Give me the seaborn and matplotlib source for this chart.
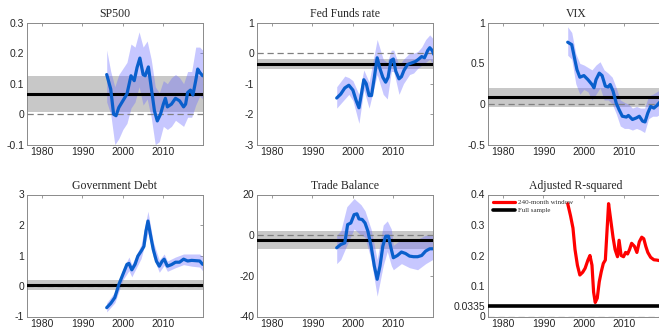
import numpy as np
import matplotlib
matplotlib.use("Agg")
import matplotlib.pyplot as plt
import seaborn as sns

# ---------------- data ----------------
titles = ["SP500", "Fed Funds rate", "VIX", "Government Debt", "Trade Balance", "Adjusted R-squared"]
xticks = [1980, 1990, 2000, 2010]

# SP500
sp_x = [1996.0, 1997.0, 1997.7, 1998.3, 1999.0, 2000.0, 2001.0, 2002.0, 2002.8, 2003.5, 2004.2, 2005.0,
        2005.5, 2006.3, 2007.0, 2007.8, 2008.5, 2009.3, 2010.0, 2010.5, 2011.0, 2012.0, 2013.0, 2014.0,
        2015.0, 2015.5, 2016.0, 2016.7, 2017.3, 2018.0, 2018.5, 2019.0, 2019.7]
sp_y = [0.13, 0.082, 0.0, -0.005, 0.022, 0.044, 0.066, 0.126, 0.11, 0.153, 0.184, 0.13,
        0.126, 0.155, 0.088, 0.011, -0.022, 0.0, 0.033, 0.052, 0.024, 0.033, 0.052, 0.044,
        0.024, 0.033, 0.071, 0.079, 0.063, 0.11, 0.148, 0.137, 0.126]
sp_bx = [1996, 1997, 1998, 1999, 2000, 2001, 2002, 2003, 2004, 2005, 2006, 2007, 2008, 2009, 2010,
         2011, 2012, 2013, 2014, 2015, 2016, 2017, 2018, 2019, 2019.7]
sp_hi = [0.21, 0.14, 0.09, 0.13, 0.15, 0.17, 0.23, 0.22, 0.27, 0.22, 0.24, 0.18, 0.09, 0.07, 0.11,
         0.10, 0.12, 0.13, 0.12, 0.10, 0.14, 0.14, 0.22, 0.22, 0.21]
sp_lo = [0.04, 0.0, -0.10, -0.08, -0.05, -0.03, 0.02, 0.04, 0.09, 0.03, 0.05, -0.01, -0.10, -0.09, -0.04,
         -0.05, -0.04, -0.02, -0.03, -0.04, -0.01, -0.01, 0.03, 0.06, 0.05]

# Fed Funds rate
ff_x = [1996.0, 1997.0, 1998.0, 1999.0, 2000.0, 2000.8, 2001.5, 2002.2, 2002.7, 2003.3, 2004.0, 2004.6,
        2005.3, 2006.0, 2006.7, 2007.4, 2008.1, 2008.7, 2009.4, 2010.0, 2010.6, 2011.4, 2012.0, 2012.6,
        2013.5, 2014.5, 2015.5, 2016.3, 2017.0, 2017.7, 2018.5, 2019.0, 2019.6, 2020.0]
ff_y = [-1.47, -1.34, -1.14, -1.05, -1.21, -1.55, -1.79, -1.27, -0.87, -1.0, -1.39, -1.39,
        -0.79, -0.15, -0.51, -0.79, -0.95, -0.79, -0.24, -0.19, -0.59, -0.84, -0.77, -0.57,
        -0.37, -0.32, -0.27, -0.19, -0.11, -0.15, 0.09, 0.18, 0.09, -0.04]
ff_bx = [1996, 1998, 1999, 2000, 2001.5, 2002.7, 2004, 2006, 2007.5, 2008.5, 2009.5, 2010.1, 2011.4,
         2012.5, 2014, 2015, 2016, 2017, 2018, 2019, 2020]
ff_hi = [-1.1, -0.75, -0.8, -0.9, -1.35, -0.55, -0.95, 0.45, -0.2, -0.3, 0.1, 0.1, -0.4,
         -0.2, 0.0, 0.0, 0.05, 0.2, 0.45, 0.6, 0.45]
ff_lo = [-1.8, -1.5, -1.35, -1.55, -2.3, -1.2, -1.8, -0.7, -1.35, -1.5, -0.6, -0.6, -1.35,
         -1.0, -0.7, -0.65, -0.5, -0.4, -0.3, -0.2, -0.4]

# VIX
vx_x = [1996.0, 1997.0, 1997.7, 1998.3, 1999.0, 2000.0, 2001.0, 2002.0, 2002.5, 2003.0, 2003.8, 2004.5,
        2005.3, 2006.0, 2006.5, 2007.2, 2008.0, 2008.7, 2009.5, 2010.5, 2011.0, 2012.0, 2013.0, 2013.7,
        2014.5, 2015.1, 2015.8, 2016.5, 2017.3, 2018.0, 2018.7, 2019.7]
vx_y = [0.76, 0.73, 0.56, 0.42, 0.33, 0.35, 0.30, 0.24, 0.20, 0.30, 0.38, 0.35,
        0.22, 0.21, 0.24, 0.16, 0.01, -0.07, -0.15, -0.16, -0.14, -0.19, -0.17, -0.15,
        -0.21, -0.22, -0.11, -0.03, -0.05, -0.02, 0.02, -0.01]
vx_bx = [1996, 1997, 1998, 1999, 2000, 2001, 2002, 2003, 2004, 2005, 2006, 2007, 2008, 2009, 2010,
         2011, 2012, 2013, 2014, 2015, 2016, 2017, 2018, 2019, 2020]
vx_hi = [0.95, 0.88, 0.62, 0.50, 0.48, 0.45, 0.42, 0.48, 0.52, 0.42, 0.38, 0.33, 0.20, 0.05, 0.02,
         0.0, -0.05, -0.03, -0.05, -0.05, 0.10, 0.12, 0.15, 0.18, 0.15]
vx_lo = [0.60, 0.55, 0.25, 0.12, 0.18, 0.15, 0.05, 0.12, 0.20, 0.05, 0.05, 0.0, -0.12, -0.27, -0.30,
         -0.30, -0.32, -0.30, -0.32, -0.35, -0.18, -0.15, -0.15, -0.12, -0.15]

# Government Debt
gd_x = [1996.0, 1997.0, 1998.0, 1999.0, 2000.0, 2001.0, 2001.5, 2002.2, 2003.0, 2003.7, 2004.5, 2005.2,
        2005.7, 2006.2, 2006.8, 2007.5, 2008.3, 2009.0, 2009.7, 2010.2, 2011.0, 2012.0, 2013.0, 2014.0,
        2015.0, 2016.0, 2017.0, 2018.0, 2019.0, 2019.7]
gd_y = [-0.71, -0.57, -0.38, 0.05, 0.38, 0.71, 0.74, 0.53, 0.71, 0.98, 1.14, 1.30,
        1.80, 2.13, 1.69, 1.20, 0.81, 0.65, 0.81, 0.88, 0.65, 0.70, 0.78, 0.78,
        0.88, 0.82, 0.84, 0.83, 0.82, 0.71]
gd_bx = [1996, 1998, 2000, 2001.5, 2002.2, 2004.5, 2006.2, 2007.5, 2009, 2010.2, 2011, 2013, 2015,
         2017, 2019, 2019.7]
gd_hi = [-0.55, -0.2, 0.55, 0.95, 0.70, 1.35, 2.45, 1.45, 0.85, 1.05, 0.82, 0.95, 1.05, 1.05, 1.05, 0.95]
gd_lo = [-0.85, -0.55, 0.20, 0.50, 0.30, 0.90, 1.75, 0.95, 0.45, 0.68, 0.48, 0.60, 0.70, 0.65, 0.62, 0.50]

# Trade Balance
tb_x = [1996.0, 1997.0, 1998.0, 1998.7, 1999.5, 2000.3, 2001.0, 2001.5, 2002.3, 2003.0, 2003.7, 2004.5,
        2005.3, 2006.0, 2006.7, 2007.4, 2008.1, 2008.8, 2009.4, 2010.0, 2011.0, 2012.0, 2013.0, 2014.0,
        2015.0, 2016.0, 2017.0, 2018.0, 2019.0, 2019.7]
tb_y = [-6.2, -4.6, -3.8, 5.2, 6.0, 10.1, 10.5, 8.0, 7.7, 6.0, 2.0, -5.4,
        -15.2, -21.7, -15.2, -5.4, -0.5, -0.5, -6.2, -11.1, -10.0, -8.3, -9.0, -10.3,
        -10.6, -10.6, -10.0, -7.8, -6.7, -6.7]
tb_bx = [1996, 1997, 1998.5, 2000.3, 2002, 2003, 2004.5, 2006, 2007.5, 2008.5, 2009.5, 2010, 2012,
         2014, 2016, 2018, 2019.7]
tb_hi = [0, 2, 14, 18, 15, 12, 3, -12, 5, 7, 3, -5, -2, -3, -2, 0, 0]
tb_lo = [-14, -12, -5, 3, 0, -1, -12, -30, -15, -8, -15, -17, -14, -16, -17, -14, -12]

# Adjusted R-squared
r2_x = [1996.0, 1996.7, 1997.3, 1997.8, 1998.4, 1999.0, 1999.7, 2000.3, 2001.0, 2001.5, 2002.0, 2002.4,
        2002.8, 2003.3, 2003.8, 2004.3, 2004.8, 2005.3, 2005.7, 2006.1, 2006.6, 2007.2, 2007.7, 2008.3,
        2008.7, 2009.2, 2009.8, 2010.3, 2010.8, 2011.3, 2011.8, 2012.5, 2013.1, 2013.7, 2014.3, 2014.8,
        2015.3, 2015.8, 2016.5, 2017.3, 2018.0, 2018.8, 2019.7]
r2_y = [0.37, 0.33, 0.29, 0.22, 0.168, 0.136, 0.145, 0.158, 0.185, 0.20, 0.168, 0.08,
        0.046, 0.06, 0.114, 0.147, 0.174, 0.185, 0.277, 0.37, 0.32, 0.26, 0.22, 0.196,
        0.25, 0.20, 0.196, 0.21, 0.205, 0.22, 0.24, 0.23, 0.21, 0.245, 0.26, 0.255,
        0.23, 0.21, 0.194, 0.186, 0.185, 0.183, 0.188]
r2_full = 0.0335

# full-sample estimates and confidence bands (est, lo, hi)
full_est = [0.067, -0.35, 0.085, 0.03, -2.4]
full_lo = [0.008, -0.52, -0.035, -0.13, -7.0]
full_hi = [0.125, -0.18, 0.20, 0.20, 2.0]

ylims = [(-0.1, 0.3), (-3, 1), (-0.5, 1), (-1, 3), (-40, 20), (0, 0.4)]
yticks = [[-0.1, 0, 0.1, 0.2, 0.3], [-3, -2, -1, 0, 1], [-0.5, 0, 0.5, 1],
          [-1, 0, 1, 2, 3], [-40, -20, 0, 20], [0, 0.0335, 0.1, 0.2, 0.3, 0.4]]
yticklabels = [["-0.1", "0", "0.1", "0.2", "0.3"], ["-3", "-2", "-1", "0", "1"],
               ["-0.5", "0", "0.5", "1"], ["-1", "0", "1", "2", "3"],
               ["-40", "-20", "0", "20"], ["0", "0.0335", "0.1", "0.2", "0.3", "0.4"]]

series = [(sp_x, sp_y, sp_bx, sp_lo, sp_hi), (ff_x, ff_y, ff_bx, ff_lo, ff_hi),
          (vx_x, vx_y, vx_bx, vx_lo, vx_hi), (gd_x, gd_y, gd_bx, gd_lo, gd_hi),
          (tb_x, tb_y, tb_bx, tb_lo, tb_hi)]

# ---------------- style ----------------
sns.set_theme(style="white")
plt.rcParams["font.family"] = ["Liberation Sans", "DejaVu Sans"]

W, H = 659, 332
fig = plt.figure(figsize=(W / 100, H / 100), dpi=100)

lefts = [27, 257, 488]
tops = [22.7, 194.5]
aw, ah = 176, 122

XLIM = (1976.3, 2019.8)
blue = "#0a5fcc"
band_blue = "#6e6eff"
grey_band = "#c8c8c8"
spine_col = "#8a8a8a"

axes = []
for r in range(2):
    for c in range(3):
        ax = fig.add_axes([lefts[c] / W, 1 - (tops[r] + ah) / H, aw / W, ah / H])
        axes.append(ax)

for i, ax in enumerate(axes):
    ax.set_xlim(*XLIM)
    ax.set_ylim(*ylims[i])
    if i < 5:
        x, y, bx, lo, hi = series[i]
        ax.axhspan(full_lo[i], full_hi[i], color=grey_band, lw=0, zorder=1)
        ax.fill_between(bx, lo, hi, color=band_blue, alpha=0.38, lw=0, zorder=2)
        ax.axhline(0, color="#808080", lw=0.9, ls=(0, (5, 3)), zorder=3)
        ax.axhline(full_est[i], color="black", lw=2.2, zorder=4)
        sns.lineplot(x=x, y=y, ax=ax, color=blue, lw=2.3, zorder=5)
    else:
        sns.lineplot(x=r2_x, y=r2_y, ax=ax, color="#ff0000", lw=2.3, zorder=5,
                     label="240-month window")
        ax.axhline(r2_full, color="black", lw=2.6, zorder=4, label="Full sample")
        ax.axhline(0, color="#808080", lw=0.9, ls=(0, (5, 3)), zorder=3)
        leg = ax.legend(loc="upper left", frameon=False, handlelength=3.2,
                        prop={"family": "Liberation Serif", "size": 5},
                        borderaxespad=0.3, labelspacing=0.3, handletextpad=0.4)
        for t in leg.get_texts():
            t.set_color("#333333")
    ax.set_xticks(xticks)
    ax.set_xticklabels([str(t) for t in xticks])
    ax.set_yticks(yticks[i])
    ax.set_yticklabels(yticklabels[i])
    ax.tick_params(direction="in", length=2.5, width=0.6, colors=spine_col,
                   labelcolor="#262626", labelsize=7.5, top=True, right=True, pad=2)
    for s in ax.spines.values():
        s.set_color(spine_col)
        s.set_linewidth(0.7)
    ax.set_xlabel("")
    ax.set_ylabel("")
    ax.set_title(titles[i], family="Liberation Serif", fontsize=8.5, color="#262626", pad=4)

fig.savefig("out.png", dpi=100)
